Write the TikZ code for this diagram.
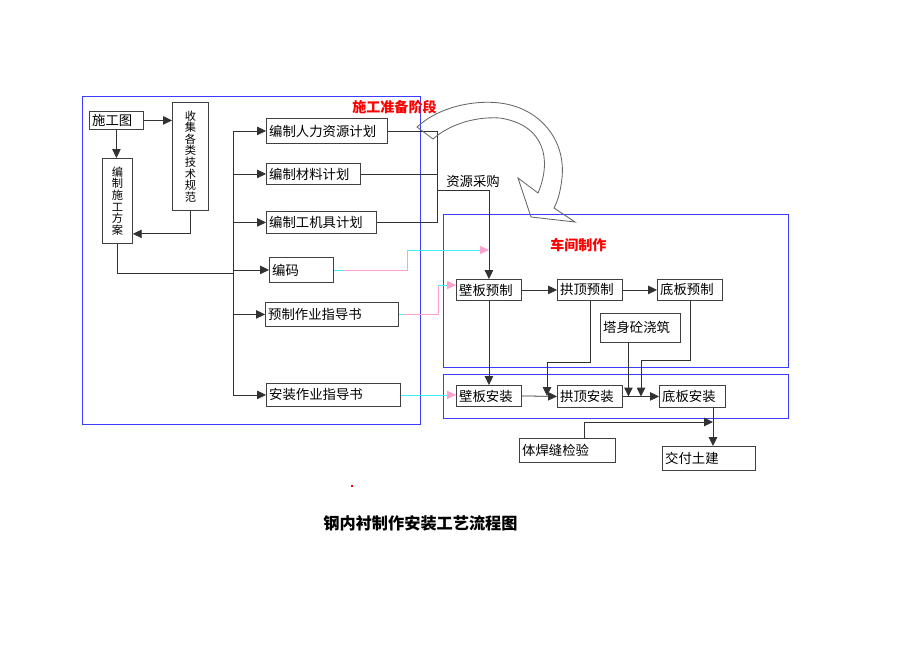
\documentclass[tikz,border=0pt]{standalone}
\usepackage{fontspec}
\setmainfont{Noto Sans CJK SC}
\usetikzlibrary{positioning,arrows.meta,calc}
\definecolor{frameblue}{RGB}{60,60,255}
\definecolor{lnpink}{RGB}{255,160,205}
\definecolor{lncyan}{RGB}{60,240,255}
\definecolor{lngray}{RGB}{50,50,50}
\tikzset{
  box/.style   = {rectangle, draw=black!75, line width=0.6pt, anchor=north west,
                  inner xsep=2pt, inner ysep=1pt, align=left,
                  font=\fontsize{9.5}{10}\selectfont},
  vbox/.style  = {box, align=center, font=\fontsize{8}{8.2}\selectfont},
  stage/.style = {draw=frameblue, line width=0.7pt},
  stagelab/.style = {text=red, inner sep=0pt, anchor=west,
                  font=\bfseries\fontsize{10}{10}\selectfont},
  lab/.style   = {inner sep=0pt, font=\fontsize{9.5}{10}\selectfont},
  ln/.style    = {line width=0.55pt, draw=lngray},
  arr/.style   = {ln, -{Triangle[length=2.2mm,width=2.1mm]}},
  pk/.style    = {line width=0.6pt, draw=lnpink},
  cy/.style    = {line width=0.6pt, draw=lncyan},
  pkarr/.style = {cy, -{Triangle[length=2.2mm,width=2mm,color=lnpink]}}
}
\begin{document}
\begin{tikzpicture}[x=0.025cm, y=-0.025cm]
\useasboundingbox (0,0) rectangle (920,651);

% --- Rahmen ------------------------------------------------------
\draw[stage] (82,96) rectangle (420,424);
\draw[stage] (443,214) rectangle (788,367);
\draw[stage] (443,374) rectangle (788,418);
\node[stagelab] (lb1) at (352,107) {施工准备阶段};
\node[stagelab] (lb2) at (550,245) {车间制作};

% --- Vorbereitung ------------------------------------------------
\node[box, text width=1.21cm, minimum height=0.45cm] (sgt) at (89,111) {施工图};
\node[vbox, text width=0.76cm, minimum height=2.7cm] (sj) at (172,102)
  {收\\集\\各\\类\\技\\术\\规\\范};
\node[vbox, text width=0.61cm, minimum height=2.125cm] (fa) at (102,158)
  {编\\制\\施\\工\\方\\案};

\node[box, text width=2.885cm, minimum height=0.625cm] (rl) at (266,118) {编制人力资源计划};
\node[box, text width=2.21cm,  minimum height=0.525cm] (cl) at (266,163) {编制材料计划};
\node[box, text width=2.61cm,  minimum height=0.55cm]  (jj) at (266,211) {编制工机具计划};
\node[box, text width=1.46cm,  minimum height=0.625cm] (bm) at (269,257) {编码};
\node[box, text width=3.185cm, minimum height=0.6cm]   (yz) at (265,302) {预制作业指导书};
\node[box, text width=3.21cm,  minimum height=0.575cm] (az) at (266,383) {安装作业指导书};
\node[lab, anchor=west] (zycg) at (446,181) {资源采购};

% --- Werkstatt ---------------------------------------------------
\node[box, text width=1.485cm, minimum height=0.525cm] (bbyz) at (456,279) {壁板预制};
\node[box, text width=1.485cm, minimum height=0.525cm] (gdyz) at (557,279) {拱顶预制};
\node[box, text width=1.485cm, minimum height=0.525cm] (dbyz) at (657,279) {底板预制};
\node[box, text width=1.86cm,  minimum height=0.725cm] (ts)   at (600,313) {塔身砼浇筑};
\node[box, text width=1.485cm, minimum height=0.525cm] (bbaz) at (456,385) {壁板安装};
\node[box, text width=1.485cm, minimum height=0.55cm]  (gdaz) at (557,385) {拱顶安装};
\node[box, text width=1.51cm,  minimum height=0.55cm]  (dbaz) at (659,385) {底板安装};
\node[box, text width=2.26cm,  minimum height=0.6cm]   (hf)   at (519,438) {体焊缝检验};
\node[box, text width=2.185cm, minimum height=0.6cm]   (jf)   at (662,446) {交付土建};

\node[inner sep=0pt, font=\bfseries\fontsize{11.5}{12}\selectfont] (title) at (420.5,523)
  {钢内衬制作安装工艺流程图};
\fill[red] (351,485) rectangle (353,487);

% --- Verbindungen links ------------------------------------------
\draw[arr] (sgt.east) -- (sgt.east -| sj.west);
\draw[arr] (sgt.south) -- (sgt.south |- fa.north);
\draw[arr] (sj.south) |- ([yshift=0.25cm]fa.south east);
\coordinate (bus) at (233,273);
\draw[ln] (fa.south) |- (bus);
\draw[ln] (bus |- rl.west) -- (bus |- az.west);
\foreach \n in {rl,cl,jj,bm,yz,az}
  \draw[arr] (bus |- \n.west) -- (\n.west);

% --- Ressourcen --------------------------------------------------
\coordinate (cg) at (437,190);
\draw[ln] (rl.east) -| (cg |- jj.east) -- (jj.east);
\draw[ln] (cl.east) -- (cl.east -| cg);
\draw[arr] (cg) -| (bbyz.north);

% --- farbige Linien ----------------------------------------------
\coordinate (c1) at (407,250);
\draw[cy] (bm.east) -- ([xshift=0.25cm]bm.east) coordinate (m1);
\draw[pk] (m1) -| (c1);
\draw[pkarr] (c1) -- (c1 -| bbyz.north);
\coordinate (c2) at (438,285);
\draw[cy] (yz.east) -- ([xshift=0.1cm]yz.east) coordinate (m2);
\draw[pk] (m2) -| (c2);
\draw[pkarr] (c2) -- (c2 -| bbyz.west);
\draw[pkarr] (az.east) -- (az.east -| bbaz.west);

% --- Werkstatt Verbindungen --------------------------------------
\draw[arr] (bbyz.east) -- (gdyz.west);
\draw[arr] (gdyz.east) -- (dbyz.west);
\draw[arr] (bbyz.south) -- (bbaz.north);
\coordinate (g1) at (547,362);
\draw[arr] (gdyz.south) |- (g1) -- (g1 |- bbaz.east);
\draw[arr] (bbaz.east) -- (gdaz.west);
\coordinate (t1) at ([xshift=-0.3cm]ts.south);
\draw[arr] (t1) -- (t1 |- gdaz.east);
\coordinate (d1) at (641,360);
\draw[arr] (dbyz.south) |- (d1) -- (d1 |- gdaz.east);
\draw[arr] (gdaz.east) -- (dbaz.west);
\coordinate (jd) at (713,422);
\draw[arr] (jd |- dbaz.south) -- (jd |- jf.north);
\draw[arr] ([xshift=0.425cm]hf.north) |- (jd);

% --- Bogenpfeil --------------------------------------------------
\draw[line width=0.6pt, draw=black!60] (417,127)
  .. controls (440,106) and (475,100) .. (500,103)
  .. controls (540,108) and (566,140) .. (562,178)
  .. controls (560,195) and (557,202) .. (554,208)
  -- (575,222) -- (531,217) -- (518,178) -- (538,193)
  .. controls (552,160) and (545,125) .. (500,118)
  .. controls (470,116) and (445,128) .. (433,139) -- cycle;
\end{tikzpicture}
\end{document}
